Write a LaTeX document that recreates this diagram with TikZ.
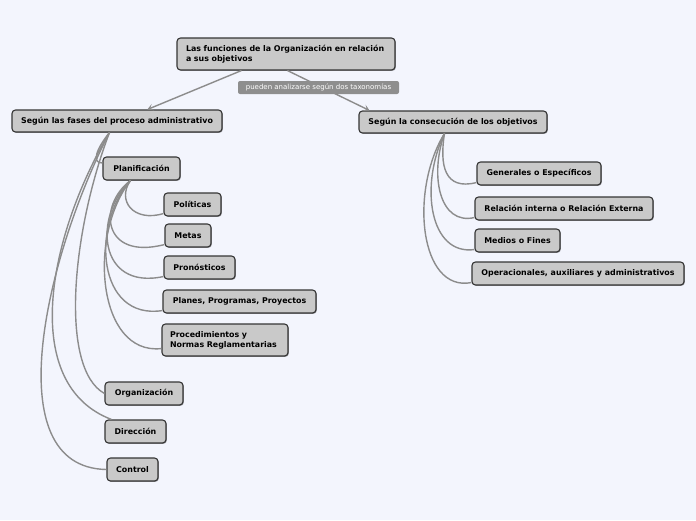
\documentclass[tikz,border=0pt]{standalone}
\usepackage{fontspec}
\setmainfont{DejaVu Sans}
\usetikzlibrary{arrows.meta,shadows}
\definecolor{bgc}{HTML}{F3F5FD}
\definecolor{boxfill}{HTML}{C9C9C9}
\definecolor{boxline}{HTML}{353535}
\definecolor{conn}{HTML}{8C8C8C}
\definecolor{lblfill}{HTML}{8E8E8E}
\tikzset{
  box/.style={draw=boxline, fill=boxfill, line width=1.1pt, rounded corners=3.5pt,
    inner sep=0pt, minimum height=23pt, font=\fontsize{7.9}{10}\selectfont\bfseries,
    drop shadow={shadow xshift=0.9pt, shadow yshift=-0.9pt, opacity=0.35, fill=black}},
  lbl/.style={fill=lblfill, text=white, rounded corners=2pt, inner sep=0pt,
    minimum height=13pt, font=\fontsize{7}{8}\selectfont},
  curve/.style={draw=conn, line width=1.4pt},
  arr/.style={draw=conn, line width=1.4pt, -{Stealth[length=6pt,width=7pt,inset=3pt]}}
}
\begin{document}
\begin{tikzpicture}[x=1pt,y=-1pt]
\fill[bgc] (0,0) rectangle (696,520);
\useasboundingbox (0,0) rectangle (696,520);

\node[box, minimum width=218pt, minimum height=32pt, text width=200pt, align=left] (root) at (286,54)
  {Las funciones de la Organización en relación\\a sus objetivos};
\node[box, minimum width=210pt, minimum height=22pt] (L) at (117,121) {Según las fases del proceso administrativo};
\node[box, minimum width=188pt, minimum height=22pt] (R) at (453,122) {Según la consecución de los objetivos};

\node[box, minimum width=77pt] (plan) at (141.5,168.5) {Planificación};
\node[box, minimum width=57pt] (pol) at (192.5,204.5) {Políticas};
\node[box, minimum width=46pt] (metas) at (188,235.5) {Metas};
\node[box, minimum width=71pt] (pron) at (199.5,267.5) {Pronósticos};
\node[box, minimum width=153pt] (planes) at (239.5,301.5) {Planes, Programas, Proyectos};
\node[box, minimum width=126pt, minimum height=32pt, text width=110pt, align=left] (proc) at (225,340)
  {Procedimientos y\\Normas Reglamentarias};
\node[box, minimum width=78pt] (org) at (144,393.5) {Organización};
\node[box, minimum width=61pt] (dir) at (135.5,431.5) {Dirección};
\node[box, minimum width=51pt] (ctrl) at (132.5,469.5) {Control};

\node[box, minimum width=124pt] (gen) at (539,173.5) {Generales o Específicos};
\node[box, minimum width=178pt] (rel) at (564,208.5) {Relación interna o Relación Externa};
\node[box, minimum width=85pt] (med) at (517.5,240.5) {Medios o Fines};
\node[box, minimum width=212pt] (oper) at (578,273.5) {Operacionales, auxiliares y administrativos};

% arrows from root
\draw[arr] ([xshift=65pt]root.south west) -- ([xshift=136pt]L.north west);
\draw[arr] ([xshift=111pt]root.south west) -- ([xshift=11pt]R.north west);
\node[lbl, minimum width=161pt] (tax) at (318.5,87.5) {pueden analizarse según dos taxonomías};

% left branch curves
\draw[curve] ([xshift=98pt]L.south west) .. controls +(-12,15) and +(-12,0) .. ([yshift=5.5pt]plan.west);
\draw[curve] ([xshift=98pt]L.south west) .. controls +(-38,100) and +(-45,-25) .. (org.west);
\draw[curve] ([xshift=98pt]L.south west) .. controls +(-62,105) and +(-92,-35) .. ([xshift=7pt]dir.north west);
\draw[curve] ([xshift=98pt]L.south west) .. controls +(-62,120) and +(-112,-2) .. (ctrl.west);

% planificacion curves
\draw[curve] ([xshift=28pt]plan.south west) .. controls +(-14,20) and +(-30,9) .. ([yshift=3pt]pol.south west);
\draw[curve] ([xshift=28pt]plan.south west) .. controls +(-33,25) and +(-62,16) .. ([yshift=3pt]metas.south west);
\draw[curve] ([xshift=28pt]plan.south west) .. controls +(-37,35) and +(-66,14) .. ([yshift=3pt]pron.south west);
\draw[curve] ([xshift=28pt]plan.south west) .. controls +(-40,45) and +(-65,10) .. ([yshift=3pt]planes.south west);
\draw[curve] ([xshift=28pt]plan.south west) .. controls +(-43,55) and +(-64,7) .. ([yshift=8pt]proc.south west);

% right branch curves
\draw[curve] ([xshift=86pt]R.south west) .. controls +(-5,32) and +(-32,8) .. ([yshift=3pt]gen.south west);
\draw[curve] ([xshift=86pt]R.south west) .. controls +(-15,42) and +(-35,8) .. ([yshift=3pt]rel.south west);
\draw[curve] ([xshift=86pt]R.south west) .. controls +(-25,52) and +(-45,6) .. ([yshift=3pt]med.south west);
\draw[curve] ([xshift=86pt]R.south west) .. controls +(-35,57) and +(-52,10) .. ([yshift=3pt]oper.south west);
\end{tikzpicture}
\end{document}
